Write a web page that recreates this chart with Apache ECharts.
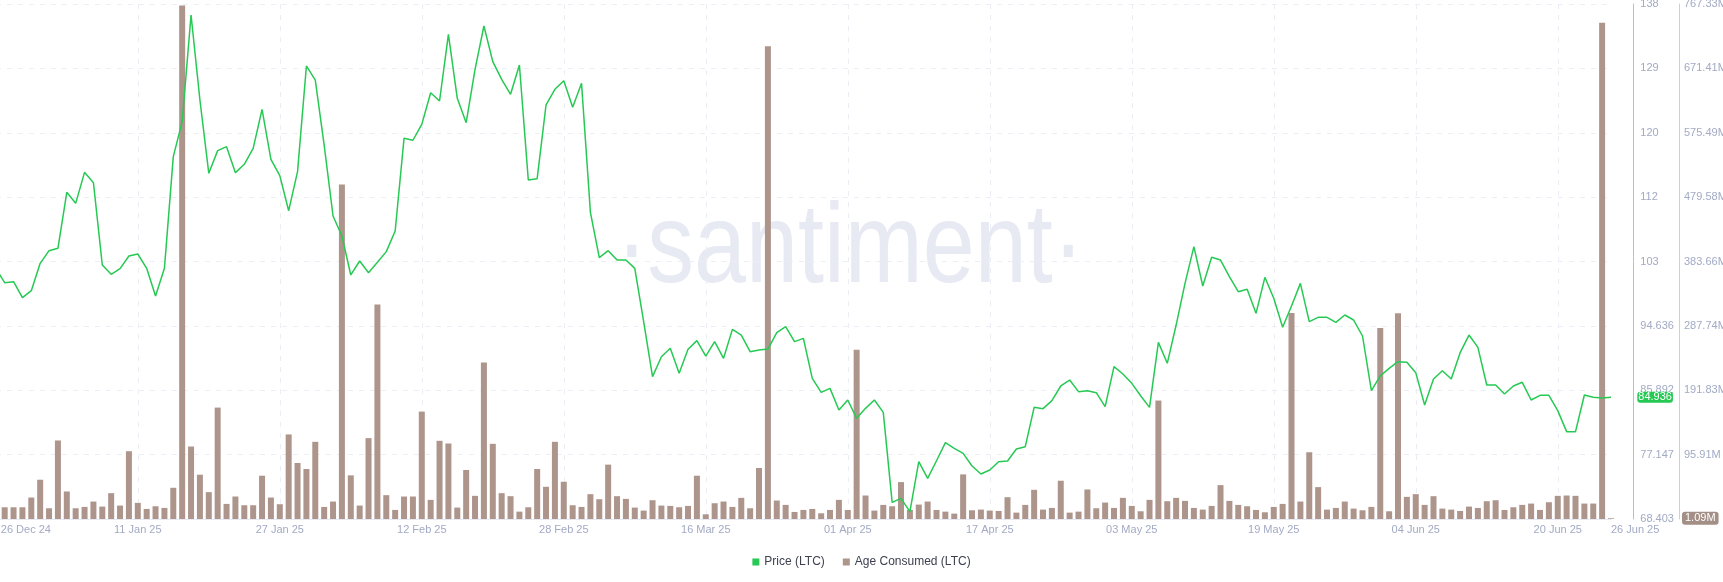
<!DOCTYPE html>
<html>
<head>
<meta charset="utf-8">
<script src="https://cdn.jsdelivr.net/npm/echarts@6/dist/echarts.min.js"></script>
<style>
html,body{margin:0;padding:0;background:#ffffff;}
#chart{width:1723px;height:582px;}
</style>
</head>
<body>
<div id="chart"></div>
<script>
// ---------- DATA ----------
const START_DATE = [2024, 11, 26];   // 26 Dec 2024 (year, monthIndex, day)
const DAY_COUNT = 183;               // 26 Dec 24 .. 26 Jun 25, daily
const MONTH_NAMES = ['Jan','Feb','Mar','Apr','May','Jun','Jul','Aug','Sep','Oct','Nov','Dec'];

// Price (LTC), USD
const price = [
  102.45,100.5,100.64,98.47,99.42,103.13,104.85,105.17,112.78,111.28,
  115.49,114.09,102.9,101.64,102.41,104.13,104.4,102.45,98.69,102.45,
  117.62,122.38,136.86,125.32,115.36,118.44,118.98,115.45,116.58,118.75,
  124.05,117.26,115.04,110.28,115.58,129.94,128.03,119.2,109.56,106.84,
  101.55,103.45,101.86,103.27,104.72,107.52,120.11,119.85,122.0,126.31,
  125.18,134.24,125.54,122.24,129.48,135.37,130.53,128.13,126.09,130.07,
  114.45,114.63,124.64,126.77,127.94,124.32,127.58,110.06,103.9,104.85,
  103.58,103.58,102.45,95.21,87.74,90.45,91.59,88.19,91.45,92.63,
  90.54,92.49,90.23,94.16,93.39,91.13,91.36,91.49,93.71,94.53,
  92.49,92.94,87.51,85.61,86.15,83.21,84.57,82.08,83.43,84.57,
  82.89,70.66,71.21,69.4,76.19,73.93,76.32,78.77,78.0,77.32,
  75.6,74.51,75.06,76.19,76.28,77.91,78.23,83.57,83.39,84.48,
  86.47,87.28,85.7,85.83,85.56,83.66,89.09,88.1,86.83,85.15,
  83.57,92.4,89.55,94.75,100.41,105.4,100.05,103.95,103.58,101.32,
  99.28,99.6,96.34,101.23,98.38,94.44,97.34,100.41,95.21,95.8,
  95.8,95.12,96.11,95.43,93.26,85.83,87.83,88.87,89.77,89.68,
  88.28,83.89,87.42,88.55,87.42,91.0,93.39,91.72,86.6,86.6,
  85.38,86.47,86.97,84.57,85.2,85.2,83.12,80.27,80.27,85.25,
  84.93,84.84,84.936
];

// Age Consumed (LTC), in millions
const ageConsumedM = [
  17,17.5,17.5,17.5,32,58.5,16,117,41,16,
  18,26,18.5,38.5,20,101,24,15,19,16.5,
  46.5,765,108,66,40,166,22.5,33.5,20.5,20.5,
  64.5,32,22,126,83.5,74.5,115,18,26,498.5,
  65,20,120.5,319.5,35.5,13.5,33.5,33.5,160,28.5,
  116.5,112.5,17,73,34.5,233,112,38.5,34,11,
  17.5,74.5,48,115,55.5,20.5,18,37,29.5,81,
  34,30,17,12.5,28,20,19.5,17.5,19.5,64.5,
  7,23.5,26,18,31.5,16,76,704.5,27.5,21,
  10.5,13.5,15,8.5,13.5,28.5,13.5,252,35,12.5,
  21,19,55,13.5,21.5,26,13.5,11,8,66.5,
  13,14,12.5,12,32.5,9.5,21,43.5,14,16.5,
  57,9.5,11,44,16,24.5,16.5,31.5,19.5,11.5,
  28.5,176.5,26.5,31.5,27,16.5,14,19.5,50.5,27,
  21,19,13.5,10,18,22.5,307,26,99.5,47.5,
  14,16.5,26,15.5,13,18,284.5,11.5,306.5,33,
  37,21,34,15.5,14,12,18.5,16.5,26.5,28,
  13.5,17.5,21,23,13.5,25,34.5,35,34.5,23,
  23,739.5,1.09
];

// Axis tick labels (right side)
const priceTickLabels = ['68.403','77.147','85.892','94.636','103','112','120','129','138'];
const ageTickLabels = ['','95.91M','191.83M','287.74M','383.66M','479.58M','575.49M','671.41M','767.33M'];
const PRICE_MIN = 68.403;
const PRICE_MAX = 138.357;
const AGE_MIN = 0;
const AGE_MAX = 767.33;
const LABEL_EVERY = 16;

function buildDates() {
  const out = [];
  for (let i = 0; i < DAY_COUNT; i++) {
    const d = new Date(Date.UTC(START_DATE[0], START_DATE[1], START_DATE[2] + i));
    const dd = String(d.getUTCDate()).padStart(2, '0');
    const yy = String(d.getUTCFullYear()).slice(2);
    out.push(dd + ' ' + MONTH_NAMES[d.getUTCMonth()] + ' ' + yy);
  }
  return out;
}
const dates = buildDates();

// ---------- CHART ----------
const GREEN = '#26c953';
const BROWN = '#ad958c';
const TICK_COLOR = '#a2aac4';
const FONT = '"Liberation Sans", Arial, sans-serif';

const chart = echarts.init(document.getElementById('chart'), null, {renderer: 'canvas'});

const PRICE_OFFSET = 22.3;
const AGE_OFFSET = 68;

const option = {
  animation: false,
  backgroundColor: '#ffffff',
  textStyle: {fontFamily: FONT},
  graphic: [{
    type: 'text',
    x: 850,
    y: 251,
    scaleX: 0.82,
    silent: true,
    z: 0,
    style: {
      text: '\u00B7santiment\u00B7',
      font: '114px "Liberation Sans Narrow", "Liberation Sans", sans-serif',
      fill: '#e7eaf3',
      align: 'center',
      verticalAlign: 'middle'
    }
  }],
  legend: {
    left: 'center',
    top: 551,
    icon: 'rect',
    itemWidth: 7,
    itemHeight: 7,
    itemGap: 18,
    textStyle: {color: '#3d4150', fontSize: 12, fontFamily: FONT}
  },
  grid: {
    left: -4.2,
    right: 1723 - 1611,
    top: 4,
    bottom: 63,
    containLabel: false,
    outerBoundsMode: 'none'
  },
  xAxis: {
    type: 'category',
    data: dates,
    boundaryGap: false,
    axisLine: {show: true, lineStyle: {color: '#e6e9f1', width: 1}},
    axisTick: {show: false},
    axisLabel: {
      interval: function (i) { return i % LABEL_EVERY === 0 || i === DAY_COUNT - 1; },
      formatter: function (v, i) { return i === 0 ? '{first|' + v + '}' : v; },
      rich: {first: {color: TICK_COLOR, fontSize: 11, padding: [0, 0, 0, 5]}},
      color: TICK_COLOR,
      fontSize: 11,
      margin: 5,
      alignMinLabel: 'left',
      alignMaxLabel: 'left'
    },
    splitLine: {
      show: true,
      interval: function (i) { return i % LABEL_EVERY === 0; },
      lineStyle: {color: '#eceef5', type: [5, 6], width: 1}
    }
  },
  yAxis: [
    {
      type: 'value', position: 'right', offset: PRICE_OFFSET,
      min: PRICE_MIN, max: PRICE_MAX,
      axisLine: {show: false}, axisTick: {show: false},
      axisLabel: {show: false}, splitLine: {show: false},
      axisPointer: {
        show: true, type: 'line', status: 'show', triggerTooltip: false,
        value: price[price.length - 1],
        lineStyle: {opacity: 0},
        label: {
          show: true, margin: 4,
          formatter: function (p) { return Number(p.value).toFixed(3); },
          backgroundColor: GREEN, color: '#ffffff', fontSize: 11,
          padding: [0, 1], lineHeight: 11, fontFamily: FONT
        }
      }
    },
    {
      type: 'value', position: 'right', offset: AGE_OFFSET,
      min: AGE_MIN, max: AGE_MAX,
      axisLine: {show: false}, axisTick: {show: false},
      axisLabel: {show: false}, splitLine: {show: false},
      axisPointer: {
        show: true, type: 'line', status: 'show', triggerTooltip: false,
        value: ageConsumedM[ageConsumedM.length - 1],
        lineStyle: {opacity: 0},
        label: {
          show: true, margin: 3,
          formatter: function (p) { return Number(p.value).toFixed(2) + 'M'; },
          backgroundColor: '#a48f87', color: '#ffffff', fontSize: 11,
          padding: [1, 3], lineHeight: 11, fontFamily: FONT
        }
      }
    },
    {
      type: 'value', position: 'right', offset: PRICE_OFFSET,
      min: 0, max: priceTickLabels.length - 1, interval: 1,
      axisLine: {show: true, lineStyle: {color: '#86e0a0', width: 1}},
      axisTick: {show: false},
      axisLabel: {
        color: TICK_COLOR, fontSize: 11, margin: 7,
        formatter: function (v) { return priceTickLabels[Math.round(v)]; }
      },
      splitLine: {show: true, lineStyle: {color: '#eceef5', type: [5, 6], width: 1}}
    },
    {
      type: 'value', position: 'right', offset: AGE_OFFSET,
      min: 0, max: ageTickLabels.length - 1, interval: 1,
      axisLine: {show: true, lineStyle: {color: '#dccbc6', width: 1}},
      axisTick: {show: false},
      axisLabel: {
        color: TICK_COLOR, fontSize: 11, margin: 5,
        formatter: function (v) { return ageTickLabels[Math.round(v)]; }
      },
      splitLine: {show: false}
    }
  ],
  series: [
    {
      name: 'Price (LTC)',
      type: 'line',
      yAxisIndex: 0,
      data: price,
      symbol: 'none',
      showSymbol: false,
      lineStyle: {color: GREEN, width: 1.5},
      itemStyle: {color: GREEN},
      z: 5
    },
    {
      name: 'Age Consumed (LTC)',
      type: 'bar',
      yAxisIndex: 1,
      data: ageConsumedM,
      barWidth: 6,
      itemStyle: {color: BROWN},
      z: 2
    }
  ]
};

chart.setOption(option);
</script>
</body>
</html>
